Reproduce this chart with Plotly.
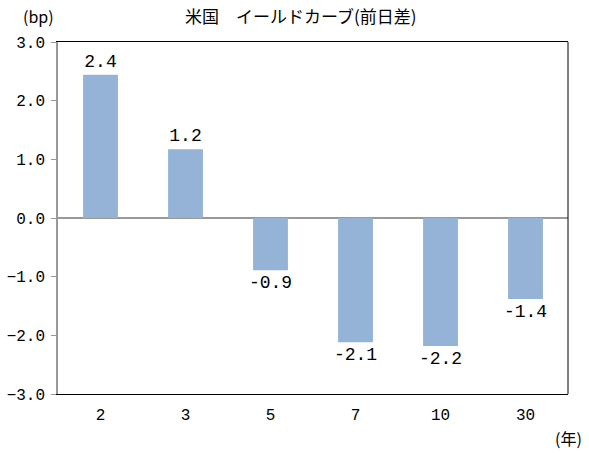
import plotly.graph_objects as go

categories = ["2", "3", "5", "7", "10", "30"]
values = [2.44, 1.17, -0.89, -2.12, -2.18, -1.38]
labels = [f"{v:.1f}" for v in values]
y_ticks = [3.0, 2.0, 1.0, 0.0, -1.0, -2.0, -3.0]

FONT = "Noto Sans CJK JP"
NUM = "Liberation Mono, Noto Sans CJK JP"

L, R, T, B, W, H = 58, 21, 42, 59, 589, 453

fig = go.Figure()
fig.add_trace(go.Bar(
    x=categories, y=values,
    text=labels, textposition="outside", cliponaxis=False, constraintext="none",
    textfont=dict(family=NUM, size=18, color="black"),
    marker=dict(color="#95B3D7", line=dict(width=0)),
    width=0.41,
))

fig.update_layout(
    width=W, height=H,
    margin=dict(l=L, r=R, t=T, b=B, autoexpand=False),
    paper_bgcolor="white", plot_bgcolor="white",
    showlegend=False,
    font=dict(family=FONT, size=15, color="black"),
    xaxis=dict(
        type="category", showgrid=False, ticks="", automargin=False,
        showline=True, linecolor="black", linewidth=1, mirror=True,
        tickfont=dict(family=NUM, size=16), ticklabelstandoff=6,
    ),
    yaxis=dict(
        range=[-3, 3], tickvals=y_ticks, tickformat=".1f", automargin=False,
        showgrid=False, zeroline=True, zerolinecolor="#999999", zerolinewidth=1.5,
        showline=True, linecolor="#999999", linewidth=1.5,
        ticks="outside", ticklen=5, tickcolor="#999999",
        tickfont=dict(family=NUM, size=16), ticklabelstandoff=3,
    ),
    shapes=[dict(type="line", xref="paper", yref="paper", x0=1, x1=1, y0=0, y1=1,
                 line=dict(color="black", width=1))],
)

def px_annot(text, px, py, size=16):
    fig.add_annotation(text=text, x=(px - L) / (W - L - R), y=(H - B - py) / (H - T - B),
                       xref="paper", yref="paper", xanchor="center", yanchor="middle",
                       showarrow=False, font=dict(family=FONT, size=size))

px_annot("米国　イールドカーブ(前日差)", 300, 16, 17)
px_annot("(bp)", 38, 16)
px_annot("(年)", 568, 438)

fig.write_html("out.html", config={"displayModeBar": False},
               post_script="document.body.style.margin='0';document.body.style.overflow='hidden';")
